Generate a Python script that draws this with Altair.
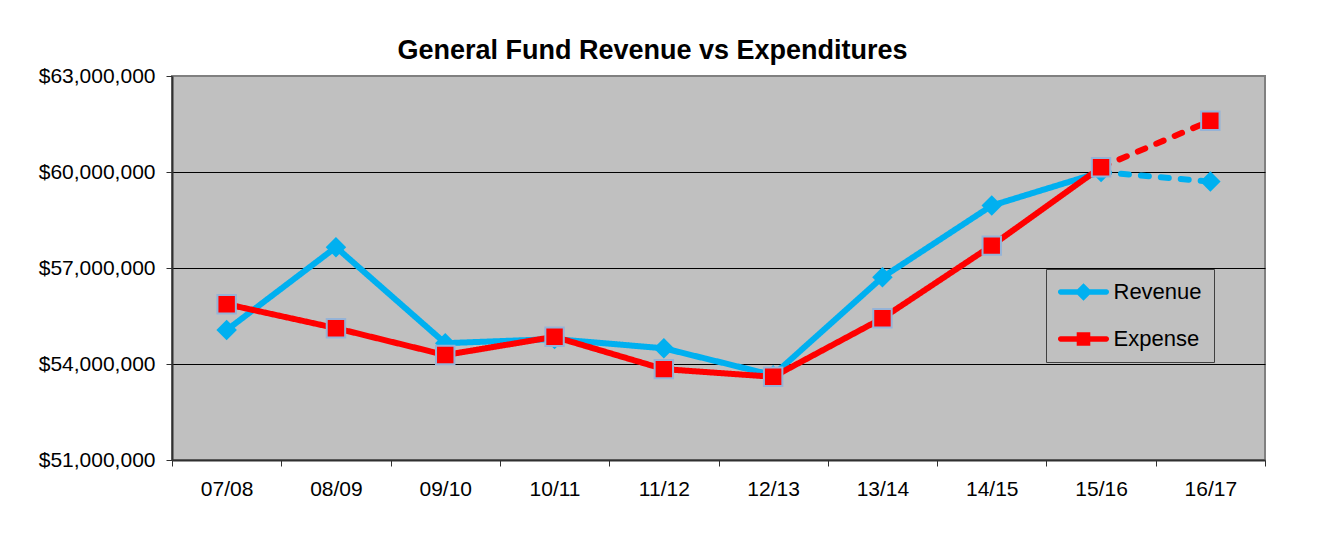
import altair as alt
import pandas as pd

# ---- data ----
years = ["07/08", "08/09", "09/10", "10/11", "11/12", "12/13", "13/14", "14/15", "15/16", "16/17"]
revenue = [55060000, 57650000, 54650000, 54780000, 54490000, 53650000, 56710000, 58950000, 60000000, 59700000]
expense = [55870000, 55120000, 54280000, 54850000, 53840000, 53600000, 55430000, 57700000, 60150000, 61600000]
series_names = ["Revenue", "Expense"]
y_ticks = [51000000, 54000000, 57000000, 60000000, 63000000]
projected_from = "15/16"
title_text = "General Fund Revenue vs Expenditures"

REV_COLOR = "#00B0F0"
EXP_COLOR = "#FF0000"
SQ_EDGE = "#95B3D7"
FONT = "Liberation Sans"

# ---- tables built from the arrays ----
proj_idx = years.index(projected_from)
rows = []
for name, vals in zip(series_names, [revenue, expense]):
    for i, (yr, v) in enumerate(zip(years, vals)):
        if i <= proj_idx:
            rows.append(dict(year=yr, series=name, value=v, seg="actual"))
        if i >= proj_idx:
            rows.append(dict(year=yr, series=name, value=v, seg="projected"))
lines_df = pd.DataFrame(rows)
points_df = pd.DataFrame({
    "year": years + years,
    "series": [series_names[0]] * len(years) + [series_names[1]] * len(years),
    "value": revenue + expense,
})

x_enc = alt.X(
    "year:O", sort=years, bandPosition=0.5,
    scale=alt.Scale(type="band", paddingInner=0, paddingOuter=0),
    axis=alt.Axis(title=None, labelAngle=0, tickBand="extent", grid=False,
                  labelFontSize=21, labelPadding=12, tickSize=6,
                  domainColor="#303030", domainWidth=2, tickColor="#303030"),
)
y_enc = alt.Y(
    "value:Q",
    scale=alt.Scale(domain=[51000000, 63000000], nice=False, zero=False),
    axis=alt.Axis(title=None, values=y_ticks, format="$,.0f",
                  labelFontSize=21, labelPadding=11, tickSize=6,
                  domainColor="#303030", domainWidth=2, tickColor="#303030",
                  grid=True, gridColor="black", gridWidth=1,
                  gridOpacity={"condition": {"test": "datum.value == 51000000 || datum.value == 63000000", "value": 0}, "value": 1}),
)
dash_enc = alt.StrokeDash(
    "seg:N", legend=None,
    scale=alt.Scale(domain=["actual", "projected"], range=[[1, 0], [8, 12]]),
)

def line_layer(name, color):
    return alt.Chart(lines_df).transform_filter(
        alt.datum.series == name
    ).mark_line(color=color, strokeWidth=6, strokeCap="round").encode(
        x=x_enc, y=y_enc, strokeDash=dash_enc
    )

rev_line = line_layer("Revenue", REV_COLOR)
exp_line = line_layer("Expense", EXP_COLOR)

rev_pts = alt.Chart(points_df).transform_filter(
    alt.datum.series == "Revenue"
).mark_point(shape="diamond", filled=True, size=420, fill=REV_COLOR, stroke=REV_COLOR,
             strokeWidth=0, opacity=1).encode(x=x_enc, y=y_enc)

exp_pts = alt.Chart(points_df).transform_filter(
    alt.datum.series == "Expense"
).mark_point(shape="square", filled=True, size=340, fill=EXP_COLOR, stroke=SQ_EDGE,
             strokeWidth=2, opacity=1).encode(x=x_enc, y=y_enc)

# legend symbols: a line with its marker (custom SVG paths)
rev_sym = ("M-2.86,-0.33 L2.86,-0.33 A0.33,0.33 0 0 1 2.86,0.33 L-2.86,0.33 "
           "A0.33,0.33 0 0 1 -2.86,-0.33 Z M0,-1.1 L1.1,0 L0,1.1 L-1.1,0 Z")
exp_sym = ("M-2.86,-0.33 L2.86,-0.33 A0.33,0.33 0 0 1 2.86,0.33 L-2.86,0.33 "
           "A0.33,0.33 0 0 1 -2.86,-0.33 Z M-0.85,-0.85 L0.85,-0.85 L0.85,0.85 L-0.85,0.85 Z")

legend_def = alt.Legend(
    title=None, orient="none", legendX=874, legendY=193,
    strokeColor="#404040", fillColor="#C0C0C0", padding=12, rowPadding=25,
    symbolOffset=14.5, labelOffset=19, labelFontSize=22, labelFont=FONT,
    labelColor="black", symbolSize=256, symbolStrokeWidth=0, symbolOpacity=1,
)

legend_layer = alt.Chart(points_df).transform_filter("false").mark_point(
    filled=True, size=256, opacity=1
).encode(
    x=x_enc, y=y_enc,
    color=alt.Color("series:N", scale=alt.Scale(domain=series_names, range=[REV_COLOR, EXP_COLOR]),
                    legend=legend_def),
    shape=alt.Shape("series:N", scale=alt.Scale(domain=series_names, range=[rev_sym, exp_sym]),
                    legend=legend_def),
)

chart = alt.layer(rev_line, rev_pts, exp_line, exp_pts, legend_layer).properties(
    width=1093, height=384,
    padding={"left": 164, "top": 68, "right": 50, "bottom": 55},
    autosize=alt.AutoSizeParams(type="none"),
    title=alt.TitleParams(title_text, fontSize=27, font=FONT, fontWeight="bold",
                          anchor="middle", dx=-66, offset=0, color="black"),
).configure(
    font=FONT, background="white"
).configure_axis(
    labelFont=FONT, labelColor="black"
).configure_view(
    fill="#C0C0C0", stroke="#808080", strokeWidth=2
)

chart.save("out.html", embed_options={"renderer": "svg", "actions": False})
